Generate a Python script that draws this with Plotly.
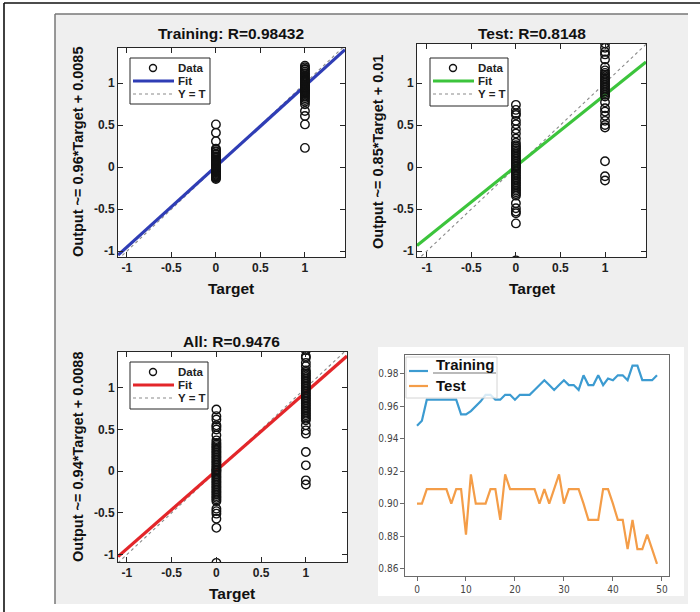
import plotly.graph_objects as go

# ---------------- data ----------------
panel_names = ["Training", "Test", "All"]
r_values = ["0.98432", "0.8148", "0.9476"]
fit_slope = [0.96, 0.85, 0.94]
fit_intercept = [0.0085, 0.01, 0.0088]
fit_label = ["0.96*Target + 0.0085", "0.85*Target + 0.01", "0.94*Target + 0.0088"]
fit_colors = ["#2f3db5", "#3cc43c", "#e3262a"]

train_t0 = [0.51, 0.41, 0.31, 0.22, 0.21, 0.19, 0.18, 0.16, 0.15, 0.13, 0.12, 0.11, 0.09,
            0.08, 0.07, 0.06, 0.05, 0.04, 0.03, 0.02, 0.01, 0.00, -0.01, -0.02, -0.03,
            -0.04, -0.05, -0.06, -0.07, -0.08, -0.09, -0.10, -0.11, -0.12, -0.13, -0.14]
train_t1 = [1.21, 1.19, 1.17, 1.16, 1.14, 1.12, 1.11, 1.09, 1.08, 1.06, 1.05, 1.03, 1.02,
            1.01, 0.99, 0.98, 0.97, 0.96, 0.95, 0.94, 0.93, 0.92, 0.91, 0.90, 0.89, 0.88,
            0.87, 0.85, 0.84, 0.82, 0.80, 0.78, 0.75, 0.67, 0.61, 0.51, 0.23]

test_t0 = [0.74, 0.68, 0.64, 0.62, 0.55, 0.51, 0.45, 0.40, 0.34, 0.29, 0.26, 0.24, 0.22,
           0.20, 0.18, 0.16, 0.14, 0.12, 0.10, 0.08, 0.06, 0.04, 0.02, 0.01, 0.00, -0.02,
           -0.04, -0.06, -0.08, -0.10, -0.12, -0.14, -0.16, -0.18, -0.20, -0.22, -0.24,
           -0.26, -0.28, -0.30, -0.32, -0.34, -0.43, -0.49, -0.53, -0.55, -0.67, -1.11]
test_t1 = [1.47, 1.42, 1.37, 1.34, 1.28, 1.19, 1.15, 1.12, 1.10, 1.08, 1.06, 1.04, 1.02,
           1.00, 0.98, 0.96, 0.94, 0.92, 0.90, 0.88, 0.86, 0.84, 0.77, 0.70, 0.66, 0.61,
           0.55, 0.50, 0.47, 0.07, -0.11, -0.16]

all_t0 = [0.74, 0.66, 0.62, 0.55, 0.53, 0.50, 0.43, 0.37, 0.34, 0.32, 0.30, 0.28, 0.26,
          0.24, 0.22, 0.20, 0.18, 0.16, 0.14, 0.12, 0.10, 0.08, 0.06, 0.04, 0.02, 0.01,
          0.00, -0.02, -0.04, -0.06, -0.08, -0.10, -0.12, -0.14, -0.16, -0.18, -0.20,
          -0.22, -0.24, -0.26, -0.28, -0.30, -0.32, -0.34, -0.36, -0.45, -0.48, -0.51,
          -0.57, -0.68, -1.10]
all_t1 = [1.45, 1.38, 1.36, 1.30, 1.26, 1.21, 1.19, 1.17, 1.15, 1.13, 1.11, 1.09, 1.07,
          1.05, 1.03, 1.01, 0.99, 0.97, 0.95, 0.93, 0.91, 0.89, 0.87, 0.85, 0.83, 0.81,
          0.79, 0.77, 0.75, 0.73, 0.71, 0.69, 0.67, 0.65, 0.63, 0.61, 0.55, 0.49, 0.45,
          0.23, 0.07, -0.11, -0.16]

outputs_t0 = [train_t0, test_t0, all_t0]
outputs_t1 = [train_t1, test_t1, all_t1]

reg_ticks = [-1, -0.5, 0, 0.5, 1]
reg_ticktext = ["-1", "-0.5", "0", "0.5", "1"]

epochs = list(range(50))
train_acc = [0.948, 0.951, 0.964, 0.964, 0.964, 0.964, 0.964, 0.964, 0.964, 0.955,
             0.955, 0.957, 0.960, 0.963, 0.967, 0.967, 0.964, 0.964, 0.967, 0.967,
             0.964, 0.967, 0.967, 0.967, 0.970, 0.973, 0.976, 0.973, 0.970, 0.973,
             0.976, 0.973, 0.973, 0.970, 0.979, 0.973, 0.973, 0.979, 0.973, 0.977,
             0.976, 0.979, 0.979, 0.976, 0.985, 0.985, 0.976, 0.976, 0.976, 0.979]
test_acc = [0.900, 0.900, 0.909, 0.909, 0.909, 0.909, 0.909, 0.900, 0.909, 0.909,
            0.881, 0.918, 0.900, 0.900, 0.900, 0.909, 0.909, 0.890, 0.918, 0.909,
            0.909, 0.909, 0.909, 0.909, 0.909, 0.900, 0.909, 0.900, 0.909, 0.918,
            0.900, 0.909, 0.909, 0.909, 0.900, 0.890, 0.890, 0.890, 0.909, 0.909,
            0.900, 0.890, 0.890, 0.872, 0.890, 0.872, 0.872, 0.881, 0.872, 0.863]
acc_ticks = [0.86, 0.88, 0.90, 0.92, 0.94, 0.96, 0.98]
acc_ticktext = ["0.86", "0.88", "0.90", "0.92", "0.94", "0.96", "0.98"]
epoch_ticks = [0, 10, 20, 30, 40, 50]

# ---------------- layout helpers ----------------
W, H = 700, 612
def PX(x):
    return x / W
def PY(y):
    return 1 - y / H

# axes boxes in pixels: (left, right, top, bottom)
boxes = [(118, 345, 48, 257), (417, 646, 44, 257), (118, 347, 352, 562), (405, 669, 355, 576)]
xranges = [[-1.10, 1.45], [-1.11, 1.46], [-1.10, 1.46], [-2.45, 51.45]]
yranges = [[-1.07, 1.42], [-1.07, 1.464], [-1.09, 1.43], [0.8555, 0.9915]]

FONT = "Liberation Sans, Arial, sans-serif"
fig = go.Figure()

for i in range(3):
    ax = "" if i == 0 else str(i + 1)
    xr = xranges[i]
    # Y = T
    fig.add_trace(go.Scatter(x=xr, y=xr, mode="lines",
                             line=dict(color="#8a8a8a", width=1.1, dash="dot"),
                             xaxis="x" + ax, yaxis="y" + ax, showlegend=False, hoverinfo="skip"))
    # Fit
    fy = [fit_slope[i] * v + fit_intercept[i] for v in xr]
    fig.add_trace(go.Scatter(x=xr, y=fy, mode="lines",
                             line=dict(color=fit_colors[i], width=3.2),
                             xaxis="x" + ax, yaxis="y" + ax, showlegend=False))
    # Data
    xs = [0] * len(outputs_t0[i]) + [1] * len(outputs_t1[i])
    ys = outputs_t0[i] + outputs_t1[i]
    fig.add_trace(go.Scatter(x=xs, y=ys, mode="markers",
                             marker=dict(symbol="circle-open", size=8.5, color="#111",
                                         line=dict(width=1.4)),
                             xaxis="x" + ax, yaxis="y" + ax, showlegend=False))

fig.add_trace(go.Scatter(x=epochs, y=train_acc, mode="lines",
                         line=dict(color="#3c9bd1", width=2.2), xaxis="x4", yaxis="y4",
                         showlegend=False))
fig.add_trace(go.Scatter(x=epochs, y=test_acc, mode="lines",
                         line=dict(color="#f49d48", width=2.2), xaxis="x4", yaxis="y4",
                         showlegend=False))

layout_axes = {}
for i in range(4):
    l, r, t, b = boxes[i]
    key = "" if i == 0 else str(i + 1)
    if i < 3:
        common = dict(showline=True, linecolor="#262626", linewidth=1, mirror="ticks",
                      ticks="inside", ticklen=5, tickcolor="#262626", showgrid=False,
                      zeroline=False, tickvals=reg_ticks, ticktext=reg_ticktext,
                      tickfont=dict(family=FONT, size=12, color="#222", weight="bold"))
        layout_axes["xaxis" + key] = dict(domain=[PX(l), PX(r)], range=xranges[i],
                                          anchor="y" + key, **common)
        layout_axes["yaxis" + key] = dict(domain=[PY(b), PY(t)], range=yranges[i],
                                          anchor="x" + key, **common)
    else:
        common = dict(showline=True, linecolor="#6a6a6a", linewidth=1.2, mirror=True,
                      ticks="outside", ticklen=3.5, tickcolor="#6a6a6a", showgrid=False,
                      zeroline=False,
                      tickfont=dict(family="Liberation Sans Narrow, DejaVu Sans Condensed, sans-serif",
                                    size=10, color="#444"))
        layout_axes["xaxis4"] = dict(domain=[PX(l), PX(r)], range=xranges[i], anchor="y4",
                                     tickvals=epoch_ticks, **common)
        layout_axes["yaxis4"] = dict(domain=[PY(b), PY(t)], range=yranges[i], anchor="x4",
                                     tickvals=acc_ticks, ticktext=acc_ticktext, **common)

shapes = []
# outer frame lines
shapes.append(dict(type="line", xref="paper", yref="paper", x0=PX(4), x1=PX(700),
                   y0=PY(3), y1=PY(3), line=dict(color="#111", width=1.6), layer="below"))
shapes.append(dict(type="line", xref="paper", yref="paper", x0=PX(4), x1=PX(4),
                   y0=PY(3), y1=PY(612), line=dict(color="#111", width=1.6), layer="below"))
# grey panel
shapes.append(dict(type="rect", xref="paper", yref="paper", x0=PX(55), x1=PX(688),
                   y0=PY(604), y1=PY(14), fillcolor="#efefef", line=dict(width=0), layer="below"))
shapes.append(dict(type="line", xref="paper", yref="paper", x0=PX(55), x1=PX(688),
                   y0=PY(14), y1=PY(14), line=dict(color="#777", width=1.5), layer="below"))
shapes.append(dict(type="line", xref="paper", yref="paper", x0=PX(55), x1=PX(55),
                   y0=PY(14), y1=PY(604), line=dict(color="#777", width=1.5), layer="below"))
# white figure area of bottom-right chart
shapes.append(dict(type="rect", xref="paper", yref="paper", x0=PX(378), x1=PX(684),
                   y0=PY(596), y1=PY(347), fillcolor="white", line=dict(width=0), layer="below"))
# white axes backgrounds
for (l, r, t, b) in boxes:
    shapes.append(dict(type="rect", xref="paper", yref="paper", x0=PX(l), x1=PX(r),
                       y0=PY(b), y1=PY(t), fillcolor="white", line=dict(width=0), layer="below"))

annotations = []
title_pos = [(231, 33), (532, 33), (232, 341)]
xlabel_pos = [(231, 288), (532, 288), (232, 593)]
ylabel_pos = [(78, 152), (378, 152), (78, 457)]
legend_box = [(130, 58, 210, 104), (430, 58, 508, 106), (130, 362, 208, 409)]

for i in range(3):
    tx, ty = title_pos[i]
    annotations.append(dict(text=f"{panel_names[i]}: R={r_values[i]}", x=PX(tx), y=PY(ty),
                            xref="paper", yref="paper", showarrow=False, xanchor="center",
                            yanchor="middle", font=dict(family=FONT, size=15.5, color="#111",
                                                         weight="bold")))
    lx, ly = xlabel_pos[i]
    annotations.append(dict(text="Target", x=PX(lx), y=PY(ly), xref="paper", yref="paper",
                            showarrow=False, xanchor="center", yanchor="middle",
                            font=dict(family=FONT, size=15.5, color="#111", weight="bold")))
    yx, yy = ylabel_pos[i]
    annotations.append(dict(text=f"Output ~= {fit_label[i]}", x=PX(yx), y=PY(yy),
                            xref="paper", yref="paper", showarrow=False, textangle=-90,
                            xanchor="center", yanchor="middle",
                            font=dict(family=FONT, size=14.5, color="#111", weight="bold")))
    # legend
    bx0, by0, bx1, by1 = legend_box[i]
    shapes.append(dict(type="rect", xref="paper", yref="paper", x0=PX(bx0), x1=PX(bx1),
                       y0=PY(by1), y1=PY(by0), fillcolor="white",
                       line=dict(color="#262626", width=1), layer="above"))
    rows = [by0 + 10, by0 + 23, by0 + 36]
    cx = bx0 + 23
    shapes.append(dict(type="circle", xref="paper", yref="paper", x0=PX(cx - 3.5), x1=PX(cx + 3.5),
                       y0=PY(rows[0] + 3.5), y1=PY(rows[0] - 3.5),
                       line=dict(color="#111", width=1.4), layer="above"))
    shapes.append(dict(type="line", xref="paper", yref="paper", x0=PX(bx0 + 3), x1=PX(bx0 + 44),
                       y0=PY(rows[1]), y1=PY(rows[1]),
                       line=dict(color=fit_colors[i], width=3), layer="above"))
    shapes.append(dict(type="line", xref="paper", yref="paper", x0=PX(bx0 + 3), x1=PX(bx0 + 44),
                       y0=PY(rows[2]), y1=PY(rows[2]),
                       line=dict(color="#8a8a8a", width=1.1, dash="dot"), layer="above"))
    for txt, ry in zip(["Data", "Fit", "Y = T"], rows):
        annotations.append(dict(text=txt, x=PX(bx0 + 46), y=PY(ry), xref="paper", yref="paper",
                                showarrow=False, xanchor="left", yanchor="middle",
                                font=dict(family=FONT, size=11.5, color="#222", weight="bold")))

# legend of the accuracy chart
shapes.append(dict(type="rect", xref="paper", yref="paper", x0=PX(406), x1=PX(497),
                   y0=PY(398), y1=PY(357), fillcolor="rgba(255,255,255,0.8)",
                   line=dict(color="#d4d4d4", width=1), layer="above"))
shapes.append(dict(type="line", xref="paper", yref="paper", x0=PX(433), x1=PX(496),
                   y0=PY(373), y1=PY(373), line=dict(color="#777", width=1.2), layer="above"))
shapes.append(dict(type="line", xref="paper", yref="paper", x0=PX(409), x1=PX(428),
                   y0=PY(371), y1=PY(371), line=dict(color="#3c9bd1", width=2.2), layer="above"))
shapes.append(dict(type="line", xref="paper", yref="paper", x0=PX(409), x1=PX(428),
                   y0=PY(386), y1=PY(386), line=dict(color="#f49d48", width=2.2), layer="above"))
for txt, ry in zip(["Training", "Test"], [364, 385]):
    annotations.append(dict(text=txt, x=PX(434), y=PY(ry), xref="paper", yref="paper",
                            showarrow=False, xanchor="left", yanchor="middle",
                            font=dict(family=FONT, size=15, color="#111", weight="bold")))

fig.update_layout(width=W, height=H, margin=dict(l=0, r=0, t=0, b=0),
                  paper_bgcolor="white", plot_bgcolor="white", showlegend=False,
                  shapes=shapes, annotations=annotations, **layout_axes)

fig.write_html("out.html", config={"displayModeBar": False},
               post_script="document.body.style.margin='0';document.body.style.padding='0';"
                           "document.documentElement.style.overflow='hidden';")
